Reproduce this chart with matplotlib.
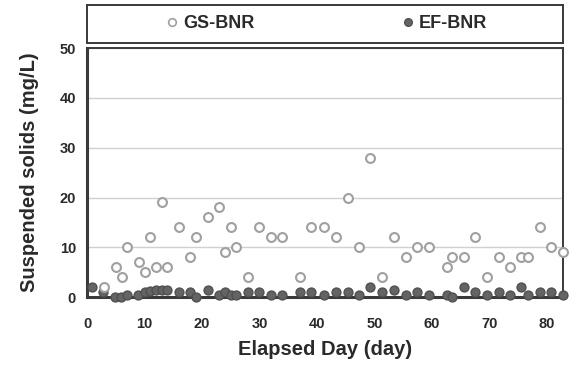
import matplotlib
matplotlib.use('Agg')
import matplotlib.pyplot as plt
from matplotlib.lines import Line2D

# Suspended solids in the effluent of the two reactors
gs_days = [3, 5, 6, 7, 9, 10, 11, 12, 13, 14, 16, 18, 19, 21, 23, 24, 25, 26, 28, 30,
           32, 34, 37, 39, 41.3, 43.3, 45.4, 47.4, 49.3, 51.4, 53.4, 55.5, 57.4, 59.5,
           62.6, 63.5, 65.6, 67.6, 69.6, 71.7, 73.7, 75.6, 76.8, 78.8, 80.8, 82.8]
gs_ss = [2, 6, 4, 10, 7, 5, 12, 6, 19, 6, 14, 8, 12, 16, 18, 9, 14, 10, 4, 14,
         12, 12, 4, 14, 14, 12, 20, 10, 28, 4, 12, 8, 10, 10,
         6, 8, 8, 12, 4, 8, 6, 8, 8, 14, 10, 9]

ef_days = [0.8, 2.8, 4.9, 5.9, 7, 8.9, 10, 11, 12, 13, 14, 16, 18, 19, 21, 23, 24, 25,
           26, 28, 30, 32, 34, 37, 39, 41.3, 43.3, 45.4, 47.4, 49.3, 51.4, 53.4, 55.5,
           57.4, 59.5, 62.6, 63.5, 65.6, 67.6, 69.6, 71.7, 73.7, 75.6, 76.8, 78.8,
           80.8, 82.8]
ef_ss = [2, 1.1, 0, 0, 0.5, 0.4, 1, 1.3, 1.5, 1.5, 1.5, 1.1, 1.1, 0, 1.5, 0.5, 1.1, 0.5,
         0.5, 1.1, 1.1, 0.5, 0.5, 1.1, 1.1, 0.5, 1.1, 1.1, 0.5, 2.1, 1.1, 1.5, 0.5,
         1.1, 0.5, 0.5, 0, 2.1, 1.1, 0.5, 1.1, 0.5, 2.1, 0.5, 1.1,
         1.1, 0.5]

y_ticks = [0, 10, 20, 30, 40, 50]
x_ticks = [0, 10, 20, 30, 40, 50, 60, 70, 80]

plt.rcParams['font.family'] = ['Liberation Sans', 'DejaVu Sans']
plt.rcParams['font.weight'] = 'bold'

fig = plt.figure(figsize=(5.69, 3.70), dpi=100)
ax = fig.add_axes([0.153, 0.197, 0.836, 0.673])

dark = '#3a3a3a'
text_col = '#2a2a2a'
gs_edge = '#a0a0a0'
ef_face = '#646464'
ef_edge = '#505050'

ax.plot(ef_days, ef_ss, linestyle='none', marker='o', markersize=6.4,
        markerfacecolor=ef_face, markeredgecolor=ef_edge, markeredgewidth=1.0,
        clip_on=False, zorder=3)
ax.plot(gs_days, gs_ss, linestyle='none', marker='o', markersize=6.4,
        markerfacecolor='white', markeredgecolor=gs_edge, markeredgewidth=1.5,
        clip_on=False, zorder=4)

ax.set_xlim(0, 82.8)
ax.set_ylim(0, 50)
ax.set_xticks(x_ticks)
ax.set_yticks(y_ticks)
ax.tick_params(length=0, labelsize=10.5, colors=text_col)
ax.tick_params(axis='x', pad=14)
ax.tick_params(axis='y', pad=8)
ax.grid(axis='y', color='#d0d0d0', linewidth=1.0)
ax.set_axisbelow(True)

for side in ['left', 'bottom']:
    ax.spines[side].set_linewidth(2.2)
    ax.spines[side].set_color(dark)
for side in ['top', 'right']:
    ax.spines[side].set_linewidth(1.4)
    ax.spines[side].set_color(dark)

ax.set_xlabel('Elapsed Day (day)', fontsize=14.5, fontweight='bold', color=text_col, labelpad=7)
ax.set_ylabel('Suspended solids (mg/L)', fontsize=14.5, fontweight='bold', color=text_col, labelpad=15)

# Legend drawn in its own framed box above the plot
lax = fig.add_axes([0.153, 0.884, 0.836, 0.103])
lax.set_xticks([])
lax.set_yticks([])
for sp in lax.spines.values():
    sp.set_linewidth(1.4)
    sp.set_color(dark)
handles = [
    Line2D([], [], linestyle='none', marker='o', markersize=5.5,
           markerfacecolor='white', markeredgecolor=gs_edge, markeredgewidth=1.2),
    Line2D([], [], linestyle='none', marker='o', markersize=5.5,
           markerfacecolor=ef_face, markeredgecolor=ef_edge, markeredgewidth=1.0),
]
leg = lax.legend(handles, ['GS-BNR', 'EF-BNR'], loc='center', ncol=2, frameon=False,
                 handletextpad=0.1, columnspacing=8.0, handlelength=1.0,
                 prop={'weight': 'bold', 'size': 13})
for t in leg.get_texts():
    t.set_color(text_col)

plt.savefig('out.png', dpi=100)
